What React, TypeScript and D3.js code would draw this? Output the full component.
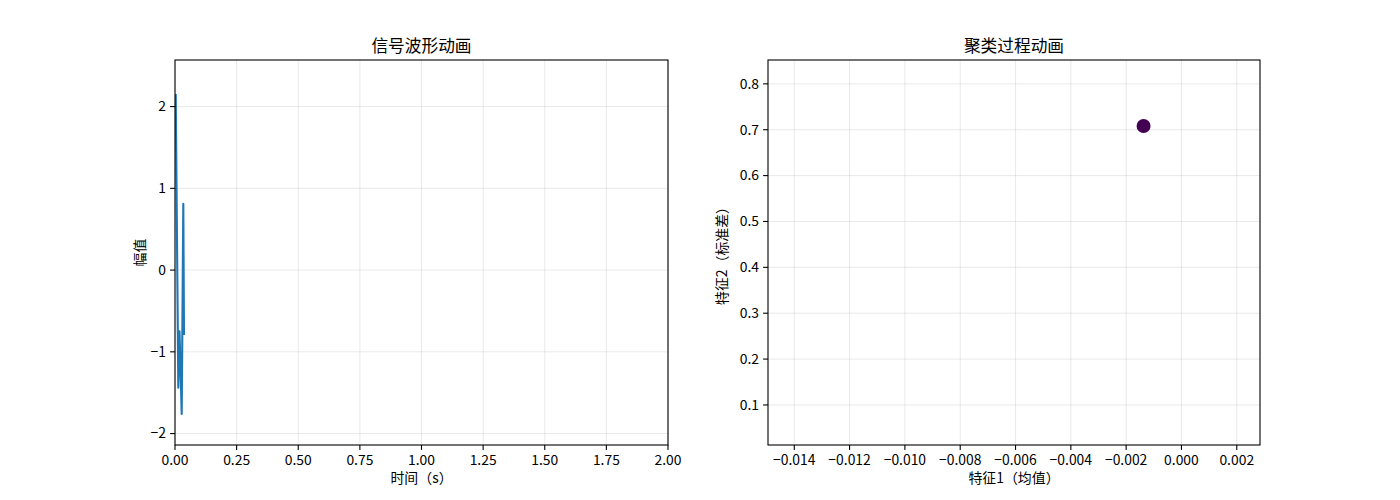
import { scaleLinear, line as d3line, range } from 'd3';

const W = 1400;
const H = 500;
const FONT = '"Noto Sans CJK SC", "DejaVu Sans", sans-serif';

// left: signal waveform
const SIG_T = [0.003, 0.0134, 0.0183, 0.0272, 0.0337, 0.0365];
const SIG_V = [2.14, -1.44, -0.75, -1.76, 0.81, -0.78];
const SIG_XTICKS = range(0, 2.0001, 0.25);
const SIG_YTICKS = [-2, -1, 0, 1, 2];
const SIG_XDOM: [number, number] = [0, 2];
const SIG_YDOM: [number, number] = [-2.14, 2.57];

// right: clustering
const CL_X = [-0.00137];
const CL_Y = [0.708];
const CL_XTICKS = [-0.014, -0.012, -0.01, -0.008, -0.006, -0.004, -0.002, 0, 0.002];
const CL_YTICKS = [0.1, 0.2, 0.3, 0.4, 0.5, 0.6, 0.7, 0.8];
const CL_XDOM: [number, number] = [-0.01495, 0.00284];
const CL_YDOM: [number, number] = [0.0127, 0.852];

const TOP = 60;
const BOTTOM = 445;

const fmt = (d: number, n: number) => d.toFixed(n).replace('-', '−');

interface PanelProps {
  left: number;
  right: number;
  title: string;
  xlabel: string;
  ylabel: string;
  xdom: [number, number];
  ydom: [number, number];
  xticks: number[];
  yticks: number[];
  xdec: number;
  ydec: number;
  ylabelX: number;
  children: (x: (v: number) => number, y: (v: number) => number) => React.ReactNode;
}

function Panel(p: PanelProps) {
  const x = scaleLinear().domain(p.xdom).range([p.left, p.right]);
  const y = scaleLinear().domain(p.ydom).range([BOTTOM, TOP]);
  const cx = (p.left + p.right) / 2;
  return (
    <g fontFamily={FONT}>
      {p.xticks.map((t) => (
        <line key={'gx' + t} x1={x(t)} x2={x(t)} y1={TOP} y2={BOTTOM} stroke="#b0b0b0" strokeOpacity={0.35} strokeWidth={0.8} />
      ))}
      {p.yticks.map((t) => (
        <line key={'gy' + t} x1={p.left} x2={p.right} y1={y(t)} y2={y(t)} stroke="#b0b0b0" strokeOpacity={0.35} strokeWidth={0.8} />
      ))}
      <clipPath id={'clip' + p.left}>
        <rect x={p.left} y={TOP} width={p.right - p.left} height={BOTTOM - TOP} />
      </clipPath>
      <g clipPath={`url(#clip${p.left})`}>{p.children(x, y)}</g>
      <rect x={p.left} y={TOP} width={p.right - p.left} height={BOTTOM - TOP} fill="none" stroke="#000" strokeWidth={1.1} />
      {p.xticks.map((t) => (
        <g key={'tx' + t}>
          <line x1={x(t)} x2={x(t)} y1={BOTTOM} y2={BOTTOM + 4.9} stroke="#000" strokeWidth={1.1} />
          <text x={x(t)} y={BOTTOM + 20} textAnchor="middle" fontSize={13.9}>{fmt(t, p.xdec)}</text>
        </g>
      ))}
      {p.yticks.map((t) => (
        <g key={'ty' + t}>
          <line x1={p.left - 4.9} x2={p.left} y1={y(t)} y2={y(t)} stroke="#000" strokeWidth={1.1} />
          <text x={p.left - 9} y={y(t)} dy="0.35em" textAnchor="end" fontSize={13.9}>{fmt(t, p.ydec)}</text>
        </g>
      ))}
      <text x={cx} y={52} textAnchor="middle" fontSize={16.7}>{p.title}</text>
      <text x={cx} y={483} textAnchor="middle" fontSize={13.9}>{p.xlabel}</text>
      <text transform={`translate(${p.ylabelX},${(TOP + BOTTOM) / 2}) rotate(-90)`} textAnchor="middle" fontSize={13.9}>{p.ylabel}</text>
    </g>
  );
}

export default function App() {
  const pts = SIG_T.map((t, i) => [t, SIG_V[i]] as [number, number]);
  return (
    <svg width={W} height={H} style={{ position: 'absolute', left: 0, top: 0, background: '#fff' }}>
      <rect width={W} height={H} fill="#fff" />
      <Panel
        left={175}
        right={668}
        title="信号波形动画"
        xlabel="时间（s）"
        ylabel="幅值"
        xdom={SIG_XDOM}
        ydom={SIG_YDOM}
        xticks={SIG_XTICKS}
        yticks={SIG_YTICKS}
        xdec={2}
        ydec={0}
        ylabelX={145}
      >
        {(x, y) => {
          const gen = d3line<[number, number]>().x((d) => x(d[0])).y((d) => y(d[1]));
          return <path d={gen(pts) ?? ''} fill="none" stroke="#1f77b4" strokeWidth={2.1} strokeLinejoin="round" strokeLinecap="square" />;
        }}
      </Panel>
      <Panel
        left={768}
        right={1260}
        title="聚类过程动画"
        xlabel="特征1（均值）"
        ylabel="特征2（标准差）"
        xdom={CL_XDOM}
        ydom={CL_YDOM}
        xticks={CL_XTICKS}
        yticks={CL_YTICKS}
        xdec={3}
        ydec={1}
        ylabelX={727}
      >
        {(x, y) => CL_X.map((v, i) => <circle key={i} cx={x(v)} cy={y(CL_Y[i])} r={7} fill="#440154" />)}
      </Panel>
    </svg>
  );
}
